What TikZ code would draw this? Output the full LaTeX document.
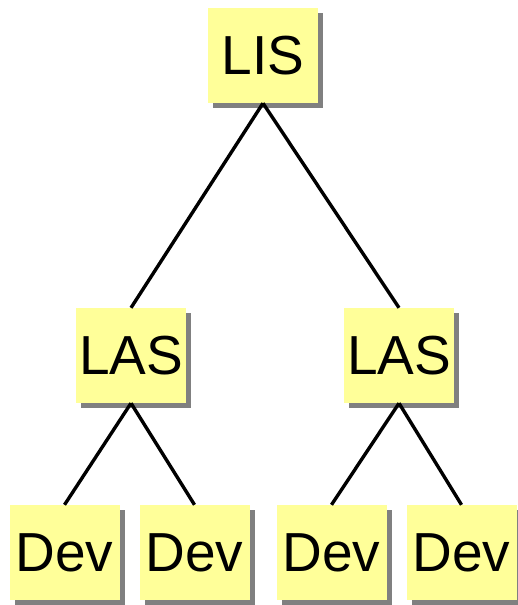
\documentclass[tikz,border=0pt]{standalone}
\usepackage{fontspec}
\setmainfont{Liberation Sans}
\usetikzlibrary{shadows}
\definecolor{notepad}{RGB}{255,255,153}
\tikzset{>=stealth}

\begin{document}
\begin{tikzpicture}[x=1pt,y=-1pt,
  box/.style={fill=notepad,minimum width=110pt,minimum height=95pt,inner sep=0pt,
    font=\fontsize{55}{60}\selectfont,
    drop shadow={shadow xshift=5pt,shadow yshift=-5pt,fill=black!50,opacity=1}},
  link/.style={line width=3.4pt}]
\useasboundingbox (0,0) rectangle (518,605);
\node[box] (lis) at (263,55.5) {LIS};
\node[box] (lasA) at (131,355.5) {LAS};
\node[box] (lasB) at (399,355.5) {LAS};
\node[box] (devA) at (64.5,552.5) {Dev};
\node[box] (devB) at (194.5,552.5) {Dev};
\node[box] (devC) at (331.5,552.5) {Dev};
\node[box] (devD) at (461.5,552.5) {Dev};
\draw[link] (lis.south) -- (lasA.north);
\draw[link] (lis.south) -- (lasB.north);
\draw[link] (lasA.south) -- (devA.north);
\draw[link] (lasA.south) -- (devB.north);
\draw[link] (lasB.south) -- (devC.north);
\draw[link] (lasB.south) -- (devD.north);
\end{tikzpicture}
\end{document}
